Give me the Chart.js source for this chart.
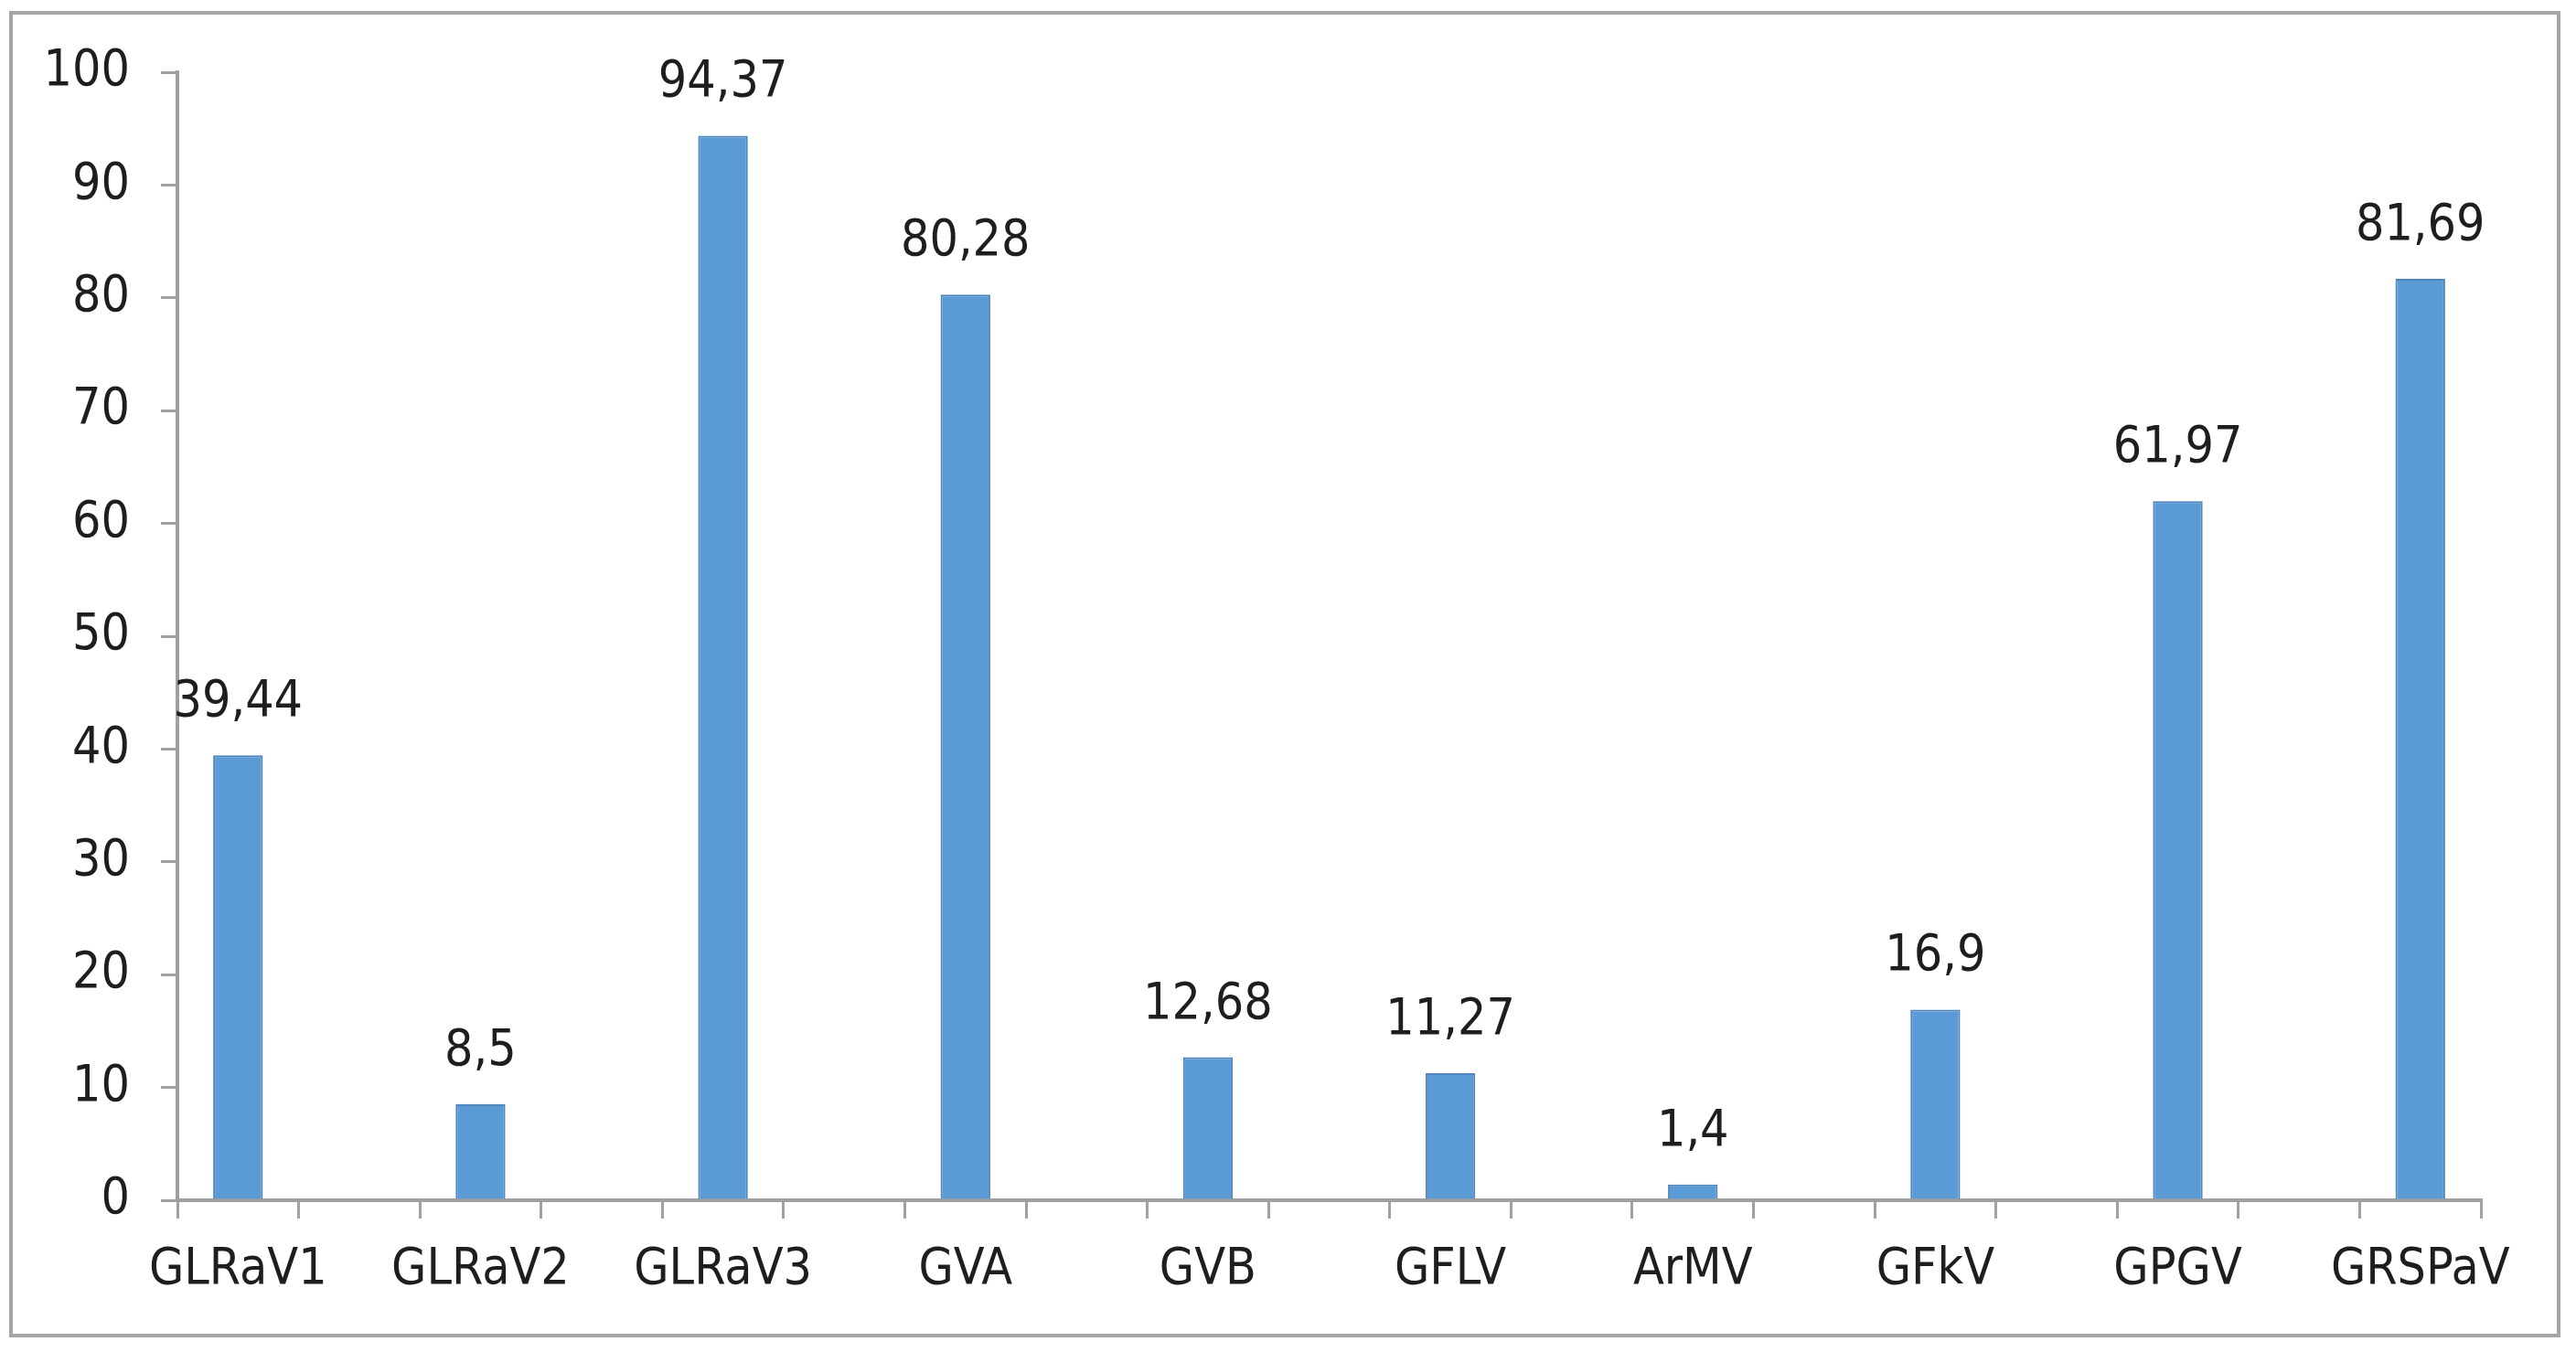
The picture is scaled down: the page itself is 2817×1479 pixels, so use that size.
<!DOCTYPE html>
<html>
<head>
<meta charset="utf-8">
<script src="https://cdn.jsdelivr.net/npm/chart.js@4/dist/chart.umd.min.js"></script>
<style>
  html, body { margin: 0; padding: 0; background: #fff; }
  #frame {
    position: absolute; left: 10px; top: 12px;
    width: 2790px; height: 1451px;
    border: 4px solid #a5a5a5; box-sizing: border-box;
  }
  #wrap { position: absolute; left: 0; top: 0; width: 2817px; height: 1479px; }
</style>
</head>
<body>
<div id="frame"></div>
<div id="wrap"><canvas id="myChart"></canvas></div>
<script>
const categories = ['GLRaV1', 'GLRaV2', 'GLRaV3', 'GVA', 'GVB', 'GFLV', 'ArMV', 'GFkV', 'GPGV', 'GRSPaV']
const values = [39.44, 8.5, 94.37, 80.28, 12.68, 11.27, 1.4, 16.9, 61.97, 81.69]
const yTicks = [0, 10, 20, 30, 40, 50, 60, 70, 80, 90, 100]

const barColor = '#5b9bd5'
const barEdge = '#4f87bd'
const axisColor = '#a0a0a0'
const textColor = '#1e1e1e'
const fontFamily = '"Liberation Sans Narrow", "DejaVu Sans Condensed", "Liberation Sans", sans-serif'
const fontSize = 55

// the original sheet puts an empty slot between every virus, so build that layout
var labels = []
var data = []
for (var i = 0; i < categories.length; i++) {
  if (i > 0) {
    labels.push('')
    data.push(null)
  }
  labels.push(categories[i])
  data.push(values[i])
}

const valueLabels = {
  id: 'valueLabels',
  afterDatasetsDraw(chart) {
    var ctx = chart.ctx
    var meta = chart.getDatasetMeta(0)
    ctx.save()
    ctx.font = fontSize + 'px ' + fontFamily
    ctx.fillStyle = textColor
    ctx.textAlign = 'center'
    ctx.textBaseline = 'alphabetic'
    meta.data.forEach((bar, index) => {
      var v = chart.data.datasets[0].data[index]
      if (v === null) return
      ctx.fillText(String(v).replace('.', ','), bar.x, bar.y - 43)
    })
    ctx.restore()
  }
}

var ctx = document.getElementById('myChart')
var chart = new Chart(ctx, {
  type: 'bar',
  data: {
    labels: labels,
    datasets: [{
      data: data,
      backgroundColor: barColor,
      borderColor: barEdge,
      borderWidth: 2,
      barPercentage: 0.41,
      categoryPercentage: 1
    }]
  },
  options: {
    responsive: true,
    maintainAspectRatio: false,
    animation: false,
    layout: { padding: { left: 0, right: 104, top: 79, bottom: 0 } },
    plugins: {
      legend: { display: false },
      tooltip: { enabled: false }
    },
    scales: {
      x: {
        grid: { drawOnChartArea: false, color: axisColor, lineWidth: 3, tickLength: 20, offset: true },
        border: { color: axisColor, width: 4 },
        ticks: {
          autoSkip: false, maxRotation: 0, padding: 24,
          color: textColor, font: { family: fontFamily, size: fontSize }
        },
        afterFit(scale) { scale.height = 1479 - 1313 }
      },
      y: {
        min: yTicks[0],
        max: yTicks[yTicks.length - 1],
        afterBuildTicks(scale) { scale.ticks = yTicks.map(v => ({ value: v })) },
        grid: { drawOnChartArea: false, color: axisColor, lineWidth: 3, tickLength: 18 },
        border: { color: axisColor, width: 4 },
        ticks: {
          padding: 34,
          color: textColor, font: { family: fontFamily, size: fontSize }
        },
        afterFit(scale) { scale.width = 194 }
      }
    }
  },
  plugins: [valueLabels]
})
</script>
</body>
</html>
